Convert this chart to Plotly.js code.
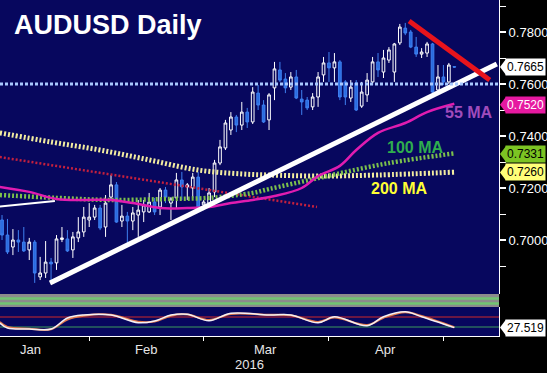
<!DOCTYPE html>
<html><head><meta charset="utf-8">
<script src="https://cdn.plot.ly/plotly-3.0.1.min.js"></script>
<style>html,body{margin:0;padding:0;background:#000;overflow:hidden}#chart{width:547px;height:373px;}</style>
</head><body><div id="chart"></div>
<script>
// ---- Daily candles (trading-day index 0..83) ----
const open = [0.7077,0.7019,0.6973,0.7000,0.6992,0.6962,0.6992,0.6858,0.6873,0.6915,
  0.6912,0.7002,0.7004,0.6962,0.7008,0.7031,0.7077,0.7088,0.7123,0.7050,
  0.7165,0.7212,0.7073,0.7092,0.7073,0.7096,0.7108,0.7108,0.7146,0.7127,
  0.7192,0.7142,0.7162,0.7231,0.7204,0.7200,0.7242,0.7135,0.7142,0.7185,
  0.7296,0.7354,0.7423,0.7473,0.7442,0.7492,0.7454,0.7565,0.7519,0.7462,
  0.7585,0.7654,0.7619,0.7588,0.7627,0.7542,0.7538,0.7512,0.7550,0.7635,
  0.7681,0.7662,0.7685,0.7608,0.7546,0.7604,0.7515,0.7558,0.7608,0.7685,
  0.7646,0.7692,0.7646,0.7758,0.7815,0.7800,0.7742,0.7715,0.7719,0.7754,
  0.7577,0.7627,0.7608,0.7667];
const high = [0.7096,0.7081,0.7042,0.7038,0.7050,0.7008,0.7000,0.6935,0.6996,0.6931,
  0.7019,0.7050,0.7038,0.7031,0.7088,0.7127,0.7142,0.7135,0.7135,0.7173,
  0.7250,0.7223,0.7135,0.7108,0.7127,0.7154,0.7154,0.7181,0.7162,0.7200,
  0.7204,0.7165,0.7258,0.7262,0.7219,0.7258,0.7262,0.7154,0.7200,0.7308,
  0.7385,0.7462,0.7492,0.7481,0.7531,0.7508,0.7588,0.7596,0.7538,0.7565,
  0.7685,0.7685,0.7642,0.7646,0.7654,0.7577,0.7550,0.7565,0.7646,0.7704,
  0.7723,0.7719,0.7692,0.7615,0.7615,0.7615,0.7608,0.7642,0.7704,0.7719,
  0.7731,0.7742,0.7758,0.7831,0.7835,0.7808,0.7781,0.7738,0.7762,0.7758,
  0.7673,0.7673,0.7681,0.7668];
const low = [0.7000,0.6946,0.6942,0.6954,0.6954,0.6923,0.6835,0.6846,0.6854,0.6839,
  0.6885,0.6992,0.6954,0.6931,0.6992,0.7012,0.7050,0.7077,0.7038,0.7012,
  0.7154,0.7066,0.7050,0.6989,0.7038,0.7012,0.7069,0.7104,0.7096,0.7096,
  0.7142,0.7077,0.7123,0.7154,0.7154,0.7162,0.7123,0.7115,0.7138,0.7165,
  0.7288,0.7346,0.7404,0.7415,0.7423,0.7431,0.7446,0.7500,0.7450,0.7423,
  0.7538,0.7608,0.7565,0.7577,0.7542,0.7481,0.7500,0.7500,0.7512,0.7608,
  0.7608,0.7608,0.7538,0.7519,0.7531,0.7496,0.7508,0.7531,0.7596,0.7627,
  0.7623,0.7681,0.7608,0.7750,0.7788,0.7738,0.7704,0.7700,0.7704,0.7558,
  0.7558,0.7596,0.7600,0.7662];
const close = [0.7019,0.6954,0.7000,0.6992,0.6958,0.6992,0.6873,0.6873,0.6915,0.6908,
  0.7004,0.7008,0.6958,0.7012,0.7031,0.7088,0.7088,0.7123,0.7046,0.7142,
  0.7212,0.7069,0.7092,0.7073,0.7104,0.7115,0.7135,0.7146,0.7108,0.7192,
  0.7165,0.7158,0.7231,0.7204,0.7212,0.7242,0.7127,0.7146,0.7181,0.7296,
  0.7358,0.7450,0.7473,0.7442,0.7492,0.7454,0.7569,0.7519,0.7454,0.7558,
  0.7658,0.7615,0.7585,0.7627,0.7546,0.7531,0.7508,0.7550,0.7627,0.7681,
  0.7662,0.7685,0.7550,0.7550,0.7588,0.7500,0.7569,0.7615,0.7685,0.7654,
  0.7700,0.7731,0.7754,0.7819,0.7796,0.7742,0.7715,0.7723,0.7754,0.7569,
  0.7627,0.7608,0.7673,0.7665];
const dayIndex = open.map((_, i) => i);

// ---- Moving averages ----
const ma55Idx = [-0.4,5,10,15,20,24,29,34,38,42,46,50,55,58,62,65,69,74,78,83];
const ma55Val = [0.7204,0.7185,0.7158,0.7154,0.7154,0.7142,0.7123,0.7123,0.7127,0.7142,0.7154,0.7169,0.7200,0.7246,0.7285,0.7346,0.7412,0.7450,0.7492,0.7524];
const ma100Idx = [-0.4,10,20,31,38,46,49,58,71,83];
const ma100Val = [0.7173,0.7162,0.7154,0.7158,0.7162,0.7181,0.7196,0.7238,0.7296,0.7333];
const ma200Idx = [-0.4,9,18,27,36,44,49,58,69,83];
const ma200Val = [0.7412,0.7377,0.7346,0.7308,0.7269,0.7254,0.7250,0.7246,0.7250,0.7261];

// ---- Drawn trend lines ----
const upTrendIdx = [8.8, 90.8];     const upTrendVal = [0.6835, 0.7677];
const downTrendIdx = [74.7, 89.5];  const downTrendVal = [0.7842, 0.7615];
const redDotIdx = [-0.4, 57.8];     const redDotVal = [0.7319, 0.7127];
const oldLineIdx = [-0.4, 9.7];     const oldLineVal = [0.7129, 0.7150];
const levelLine = 0.76;

// ---- Oscillator panel ----
const oscIdx = [-0.4,1,5,9,12,15,20,25,28,31,34,38,42,49,53,58,61,67,70,74,77,83];
const oscK = [46,26,22,22,66,78,78,47,54,78,81,55,85,78,78,47,71,35,71,91,71,27.519];
const oscD = [50,30,23,21,60,75,79,51,52,75,80,58,82,79,77,50,68,38,67,89,74,29];
const oscUpper = 70, oscLower = 30;

// ---- Axis labels ----
const priceTicks = [0.70,0.72,0.74,0.76,0.78];
const priceMinor = [0.69,0.71,0.73,0.75,0.77,0.79];
const monthStarts = [16,37,60,81];
const monthNames = ['Jan','Feb','Mar','Apr'];
const monthCenters = [5.3,26.4,48.3,70.3];
const yearLabel = '2016', yearCenter = 45.5;

// ---- Tags on right axis ----
const tags = [
  {v:0.7665, txt:'0.7665', bg:'#ffffff', fg:'#000000', ax:'y'},
  {v:0.7520, txt:'0.7520', bg:'#e619a0', fg:'#ffffff', ax:'y'},
  {v:0.7331, txt:'0.7331', bg:'#7cc423', fg:'#000000', ax:'y'},
  {v:0.7260, txt:'0.7260', bg:'#ffff78', fg:'#000000', ax:'y'},
  {v:27.519, txt:'27.519', bg:'#ffffff', fg:'#000000', ax:'y2'}
];

const NAVY = '#07075e';
const traces = [
  {type:'candlestick', x:dayIndex, open:open, high:high, low:low, close:close,
   xaxis:'x', yaxis:'y', whiskerwidth:0, hoverinfo:'skip',
   increasing:{line:{color:'#ffffff', width:1}, fillcolor:NAVY},
   decreasing:{line:{color:'#3f80f0', width:1}, fillcolor:'#2a6be0'}},
  {type:'scatter', mode:'lines', x:redDotIdx, y:redDotVal, line:{color:'#c4203e', width:2.5, dash:'2px,2px'}, hoverinfo:'skip'},
  {type:'scatter', mode:'lines', x:ma200Idx, y:ma200Val, line:{color:'#f2eca0', width:5, dash:'2px,2px', shape:'spline'}, hoverinfo:'skip'},
  {type:'scatter', mode:'lines', x:ma100Idx, y:ma100Val, line:{color:'#7cc04c', width:4.5, dash:'2px,2px', shape:'spline'}, hoverinfo:'skip'},
  {type:'scatter', mode:'lines', x:ma55Idx, y:ma55Val, line:{color:'#e01cb0', width:2.5, shape:'spline'}, hoverinfo:'skip'},
  {type:'scatter', mode:'lines', x:oldLineIdx, y:oldLineVal, line:{color:'#ffffff', width:2}, hoverinfo:'skip'},
  {type:'scatter', mode:'lines', x:upTrendIdx, y:upTrendVal, line:{color:'#ffffff', width:5}, hoverinfo:'skip'},
  {type:'scatter', mode:'lines', x:downTrendIdx, y:downTrendVal, line:{color:'#e8141c', width:5}, hoverinfo:'skip'},
  {type:'scatter', mode:'lines', x:oscIdx, y:oscD, xaxis:'x', yaxis:'y2', line:{color:'#e0784c', width:2, shape:'spline'}, hoverinfo:'skip'},
  {type:'scatter', mode:'lines', x:oscIdx, y:oscK, xaxis:'x', yaxis:'y2', line:{color:'#f4f0f4', width:1.5, shape:'spline'}, hoverinfo:'skip'}
];

const H = 336; // plot height in px
const shapes = [
  {type:'rect', xref:'paper', yref:'paper', x0:0, x1:1, y0:29/H, y1:42/H, fillcolor:'#8c8c8c', line:{width:0}, layer:'below'},
  {type:'line', xref:'paper', yref:'paper', x0:0, x1:1, y0:(H-298.5)/H, y1:(H-298.5)/H, line:{color:'#72c472', width:2.5}},
  {type:'line', xref:'paper', yref:'paper', x0:0, x1:1, y0:(H-303.5)/H, y1:(H-303.5)/H, line:{color:'#72c472', width:2.5}},
  {type:'line', xref:'paper', yref:'y', x0:0, x1:1, y0:levelLine, y1:levelLine, line:{color:'#a8c8ff', width:3, dash:'3px,2px'}},
  {type:'line', xref:'paper', yref:'y2', x0:0, x1:1, y0:oscUpper, y1:oscUpper, line:{color:'#d02828', width:1.2}, layer:'below'},
  {type:'line', xref:'paper', yref:'y2', x0:0, x1:1, y0:oscLower, y1:oscLower, line:{color:'#3c9c5c', width:1.2}, layer:'below'}
];
tags.forEach(t => shapes.push({type:'path', xref:'paper', yref:t.ax, xsizemode:'pixel', ysizemode:'pixel',
  xanchor:1, yanchor:t.v, path:'M 1 0 L 7 8 L 7 -8 Z', fillcolor:t.bg, line:{width:0}}));

const annotations = [];
tags.forEach(t => annotations.push({xref:'paper', x:1, xanchor:'left', xshift:6, yref:t.ax, y:t.v, yanchor:'middle',
  text:t.txt, showarrow:false, bgcolor:t.bg, borderpad:1, font:{color:t.fg, size:12}}));
monthNames.forEach((m,i) => annotations.push({xref:'x', x:monthCenters[i], yref:'paper', y:0, yanchor:'top', yshift:-4,
  text:m, showarrow:false, font:{size:13, color:'#e6e6e6'}}));
annotations.push({xref:'x', x:yearCenter, yref:'paper', y:0, yanchor:'top', yshift:-19, text:yearLabel, showarrow:false, font:{size:13, color:'#e6e6e6'}});
annotations.push({xref:'x', x:85.7, yref:'y', y:0.7492, text:'<b>55 MA</b>', showarrow:false, font:{size:16, color:'#a04cbc'}});
annotations.push({xref:'x', x:75.8, yref:'y', y:0.7354, text:'<b>100 MA</b>', showarrow:false, font:{size:16, color:'#2fae4e'}});
annotations.push({xref:'x', x:72.9, yref:'y', y:0.7200, text:'<b>200 MA</b>', showarrow:false, font:{size:16, color:'#ffff33'}});

const layout = {
  width:547, height:373, paper_bgcolor:'#000000', plot_bgcolor:NAVY,
  margin:{l:0, r:48, t:0, b:37, pad:0}, showlegend:false,
  font:{family:'"Liberation Sans", Arial, sans-serif', color:'#ffffff', size:13},
  title:{text:'<b>AUDUSD Daily</b>', x:14/547, xanchor:'left', y:1-25/373, yanchor:'middle', font:{size:27, color:'#ffffff'}},
  xaxis:{range:[-0.37, 91.2], anchor:'y2', tickvals:monthStarts, ticktext:monthStarts.map(()=>''), ticks:'outside', ticklen:4,
    tickcolor:'#ffffff', showline:true, linecolor:'#ffffff', linewidth:1, showgrid:false, zeroline:false,
    rangeslider:{visible:false}, fixedrange:true},
  yaxis:{domain:[42/H, 1], range:[0.67923, 0.79231], side:'right', anchor:'x', tickvals:priceTicks,
    ticktext:priceTicks.map(v=>v.toFixed(4)), ticks:'outside', ticklen:6, tickwidth:1.5, tickcolor:'#ffffff',
    minor:{tickvals:priceMinor, ticks:'outside', ticklen:6, tickcolor:'#ffffff', tickwidth:1},
    showline:true, linecolor:'#ffffff', showgrid:false, zeroline:false, tickfont:{size:13, color:'#ffffff'}, fixedrange:true},
  yaxis2:{domain:[0, 29/H], range:[-6,110], side:'right', anchor:'x', showticklabels:false, ticks:'',
    showline:true, linecolor:'#ffffff', showgrid:false, zeroline:false, fixedrange:true},
  shapes:shapes, annotations:annotations
};
Plotly.newPlot('chart', traces, layout, {displayModeBar:false, staticPlot:true});
</script></body></html>
